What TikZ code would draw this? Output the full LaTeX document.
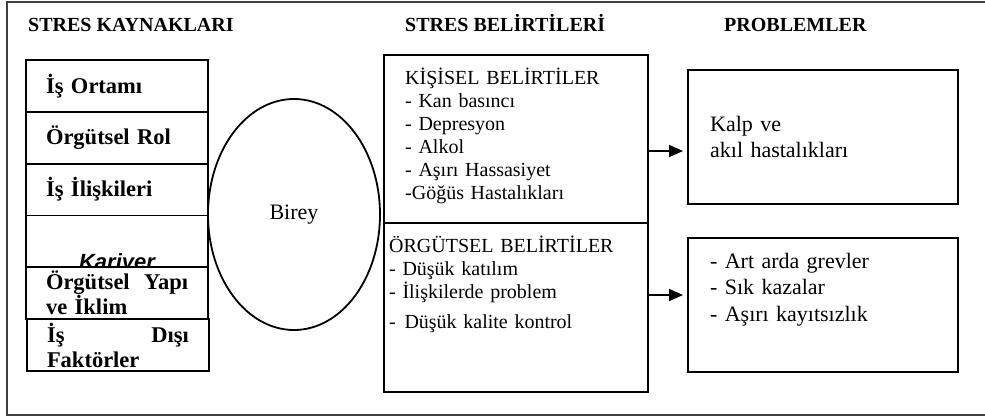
\documentclass[tikz,border=0pt]{standalone}
\usepackage{fontspec}
\setmainfont{Liberation Serif}
\newfontfamily\arialfont{Liberation Sans}
\usepackage{tikz}
\usetikzlibrary{positioning}
\usetikzlibrary{shapes.geometric}
\usetikzlibrary{arrows.meta}

\begin{document}
\begin{tikzpicture}[x=1pt, y=-1pt,
			kaynak/.style={draw, rectangle, fill=white, line width=1.8pt, outer sep=0pt, minimum width=182pt, minimum height=51.8pt, inner xsep=20pt, inner ysep=0pt, text width=142pt, align=left, font=\fontsize{22.5}{25}\selectfont\bfseries},
			kutu/.style={draw, rectangle, line width=1.8pt, outer sep=0pt},
			baslik/.style={anchor=base west, inner sep=0pt, font=\fontsize{20}{23}\selectfont\bfseries},
			metin/.style={anchor=base west, inner sep=0pt, align=left, text width=250pt}]
			\useasboundingbox (0,0) rectangle (985,418);
			\draw[line width=1.8pt, black!75] (985,2) -- (7,2) -- (7,415) -- (985,415);
			
			\node[baslik](kaynaklar) at (28,31.7) {STRES KAYNAKLARI};
			\node[baslik](belirtiler) at (405,31.7) {STRES BELİRTİLERİ};
			\node[baslik](problemler) at (724,31.7) {PROBLEMLER};
			
			\node[kaynak](ortam) at (117,86) {İş Ortamı};
			\node[kaynak, below=0pt of ortam](rol) {Örgütsel Rol};
			\node[kaynak, below=0pt of rol](iliski) {İş İlişkileri};
			\node[kaynak, below=0pt of iliski](kariyer) {};
			\node[anchor=base, inner sep=0pt, font=\arialfont\fontsize{22}{25}\selectfont\bfseries\itshape](kariyeryazi) at ([yshift=-2.5pt]kariyer.south) {Kariyer};
			\node[kaynak, below=0pt of kariyer](yapi) {Örgütsel\hfill Yapı\\ve İklim};
			\node[kaynak, below=0pt of yapi, xshift=1pt](disi) {İş\hfill Dışı\\Faktörler};
			
			\node[draw, ellipse, line width=1.8pt, minimum width=172pt, minimum height=231pt, inner sep=0pt, font=\fontsize{22}{25}\selectfont](birey) at (294,214.5) {Birey};
			
			\node[kutu, minimum width=264pt, minimum height=168pt](kisisel) at (516,139) {};
			\node[kutu, minimum width=264pt, minimum height=169pt, below=0pt of kisisel](orgutsel) {};
			\node[metin, font=\fontsize{20}{23}\selectfont](kisiselyazi) at (405,84.5) {KİŞİSEL BELİRTİLER\\- Kan basıncı\\- Depresyon\\- Alkol\\- Aşırı Hassasiyet\\-Göğüs Hastalıkları};
			\node[metin, font=\fontsize{20}{23}\selectfont](orgutselyazi) at (389,252) {ÖRGÜTSEL BELİRTİLER\\- Düşük katılım\\- İlişkilerde problem\\[7pt]-\hspace{2pt} Düşük kalite kontrol};
			
			\node[kutu, minimum width=270pt, minimum height=134pt](kalp) at (823,137) {};
			\node[kutu, minimum width=270pt, minimum height=134pt](sorun) at (823,305) {};
			\node[metin, font=\fontsize{22}{26}\selectfont](kalpyazi) at (710,131) {Kalp ve\\akıl hastalıkları};
			\node[metin, font=\fontsize{22}{26.5}\selectfont](sorunyazi) at (710,268) {- Art arda grevler\\- Sık kazalar\\- Aşırı kayıtsızlık};
			
			\draw[-{Triangle[length=14pt,width=12pt]}, line width=1.8pt, shorten >=5pt] ([yshift=-12pt]kisisel.east) -- ([yshift=-14pt]kalp.west);
			\draw[-{Triangle[length=14pt,width=12pt]}, line width=1.8pt, shorten >=5pt] ([yshift=12.5pt]orgutsel.east) -- ([yshift=10pt]sorun.west);
			
		\end{tikzpicture}
\end{document}
